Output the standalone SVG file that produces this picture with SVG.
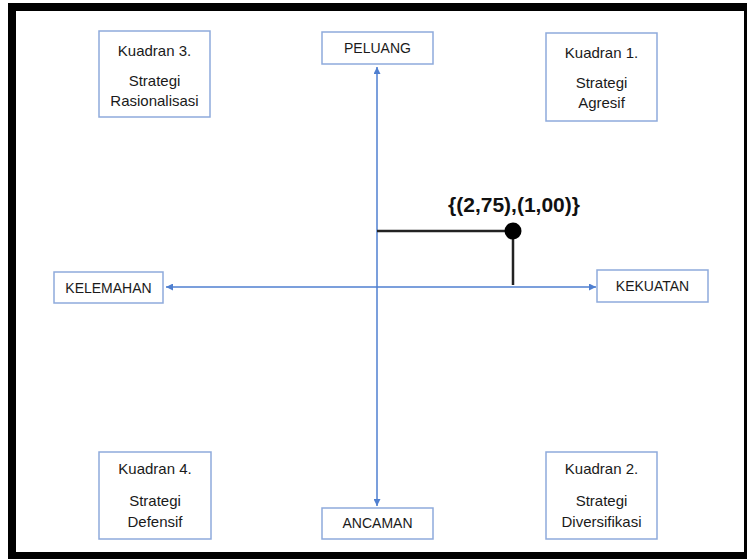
<svg xmlns="http://www.w3.org/2000/svg" width="747" height="559" viewBox="0 0 747 559">
  <style>
    .box { fill: #ffffff; stroke: #8eaadc; stroke-width: 1.5; }
    .t { font-family: "Liberation Sans", Arial, sans-serif; font-size: 15px; fill: #1a1a1a; text-anchor: middle; }
    .ax { font-family: "Liberation Sans", Arial, sans-serif; font-size: 14px; fill: #1a1a1a; text-anchor: middle; }
    .axis { stroke: #4f7fd0; stroke-width: 1.5; fill: none; }
    .blk { stroke: #222222; stroke-width: 2.5; fill: none; }
  </style>
  <defs>
    <marker id="arr" viewBox="0 0 10 10" refX="10" refY="5" markerWidth="7" markerHeight="7" markerUnits="userSpaceOnUse" orient="auto-start-reverse">
      <path d="M0,0 L10,5 L0,10 z" fill="#4f7fd0"/>
    </marker>
  </defs>
  <rect x="0" y="0" width="747" height="559" fill="#ffffff"/>
  <g id="frame" fill="#000000">
    <rect x="8" y="3" width="739" height="8"/>
    <rect x="8" y="3" width="8" height="556"/>
    <rect x="8" y="552" width="739" height="7"/>
    <rect x="744" y="3" width="3" height="556"/>
  </g>
  <g id="connectors">
    <line class="axis" x1="377" y1="506" x2="377" y2="67" marker-start="url(#arr)" marker-end="url(#arr)"/>
    <line class="axis" x1="166" y1="287" x2="596" y2="287" marker-start="url(#arr)" marker-end="url(#arr)"/>
    <polyline class="blk" points="377,231 513,231 513,285"/>
    <circle cx="513" cy="231" r="8.5" fill="#000000"/>
  </g>
  <g id="point-label">
    <text x="514" y="212" font-family="'Liberation Sans', Arial, sans-serif" font-size="21" font-weight="bold" fill="#111111" text-anchor="middle">{(2,75),(1,00)}</text>
  </g>
  <g id="kuadran3">
    <rect class="box" x="99" y="31" width="111" height="86"/>
    <text class="t" x="154.5" y="56">Kuadran 3.</text>
    <text class="t" x="154.5" y="86">Strategi</text>
    <text class="t" x="154.5" y="106">Rasionalisasi</text>
  </g>
  <g id="kuadran1">
    <rect class="box" x="546" y="33" width="111" height="88"/>
    <text class="t" x="601.5" y="58">Kuadran 1.</text>
    <text class="t" x="601.5" y="88">Strategi</text>
    <text class="t" x="601.5" y="108">Agresif</text>
  </g>
  <g id="kuadran4">
    <rect class="box" x="99" y="452" width="112" height="87"/>
    <text class="t" x="155" y="474">Kuadran 4.</text>
    <text class="t" x="155" y="506">Strategi</text>
    <text class="t" x="155" y="527">Defensif</text>
  </g>
  <g id="kuadran2">
    <rect class="box" x="546" y="452" width="111" height="87"/>
    <text class="t" x="601.5" y="474">Kuadran 2.</text>
    <text class="t" x="601.5" y="506">Strategi</text>
    <text class="t" x="601.5" y="527">Diversifikasi</text>
  </g>
  <g id="peluang">
    <rect class="box" x="322" y="32" width="111" height="32"/>
    <text class="ax" x="377.5" y="53">PELUANG</text>
  </g>
  <g id="ancaman">
    <rect class="box" x="322" y="508" width="111" height="31"/>
    <text class="ax" x="377.5" y="528">ANCAMAN</text>
  </g>
  <g id="kelemahan">
    <rect class="box" x="54" y="272" width="109" height="31"/>
    <text class="ax" x="108.5" y="293">KELEMAHAN</text>
  </g>
  <g id="kekuatan">
    <rect class="box" x="597" y="270" width="111" height="32"/>
    <text class="ax" x="652.5" y="291">KEKUATAN</text>
  </g>
</svg>
